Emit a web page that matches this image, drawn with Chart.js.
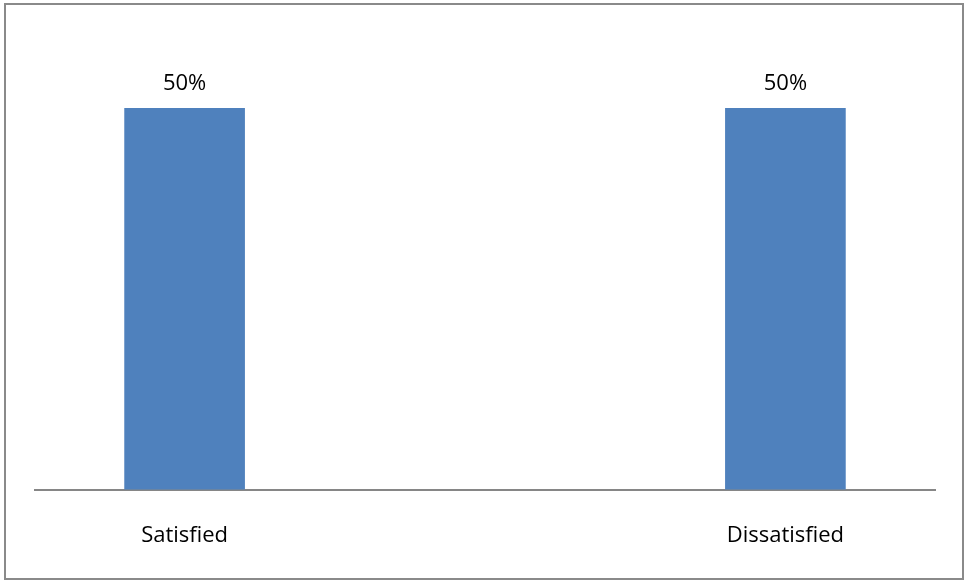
<!DOCTYPE html>
<html>
<head>
<meta charset="utf-8">
<script src="https://cdn.jsdelivr.net/npm/chart.js@4"></script>
<style>
  html, body { margin: 0; padding: 0; background: #fff; }
  #wrap { position: relative; width: 964px; height: 581px; }
  #frame {
    position: absolute; left: 4px; top: 3px; width: 956px; height: 573px;
    border: 2px solid #8a8a8a; box-sizing: content-box; pointer-events: none;
  }
  canvas { position: absolute; left: 0; top: 0; }
</style>
</head>
<body>
<div id="wrap">
  <canvas id="satisfactionChart" width="964" height="581"></canvas>
  <div id="frame"></div>
</div>
<script>
const categories = ['Satisfied', 'Dissatisfied'];
const shares = [50, 50];

const labelFont = { family: '"Open Sans", sans-serif', size: 22 };

// writes "50%" above each bar, using the bar's own position
const valueLabels = {
    id: 'valueLabels',
    afterDatasetsDraw(chart) {
        const ctx = chart.ctx;
        const meta = chart.getDatasetMeta(0);
        ctx.save();
        ctx.font = `${labelFont.size}px ${labelFont.family}`;
        ctx.fillStyle = '#000';
        ctx.textAlign = 'center';
        ctx.textBaseline = 'middle';
        meta.data.forEach((bar, i) => {
            ctx.fillText(shares[i] + '%', bar.x, bar.y - 25);
        });
        ctx.restore();
    }
};

const ctx = document.getElementById('satisfactionChart').getContext('2d');

new Chart(ctx, {
    type: 'bar',
    data: {
        datasets: [{
            data: shares.map((v, i) => ({ x: i, y: v })),
            backgroundColor: '#4F81BD',
            borderWidth: 0,
            barThickness: 120
        }]
    },
    options: {
        responsive: false,
        animation: false,
        layout: { padding: { left: 35, right: 29, top: 32, bottom: 0 } },
        plugins: {
            legend: { display: false },
            tooltip: { enabled: false }
        },
        scales: {
            x: {
                type: 'linear',
                bounds: 'data',
                offset: false,
                min: -0.249,
                max: 1.249,
                afterBuildTicks(scale) {
                    scale.ticks = categories.map((_, i) => ({ value: i }));
                },
                ticks: {
                    callback: (value) => categories[value] ?? '',
                    color: '#000',
                    font: labelFont,
                    padding: 32.5,
                    maxRotation: 0
                },
                grid: { display: false, drawTicks: false },
                border: { display: true, color: '#868686', width: 2 }
            },
            y: {
                display: false,
                min: 0,
                max: 60
            }
        }
    },
    plugins: [valueLabels]
});
</script>
</body>
</html>
